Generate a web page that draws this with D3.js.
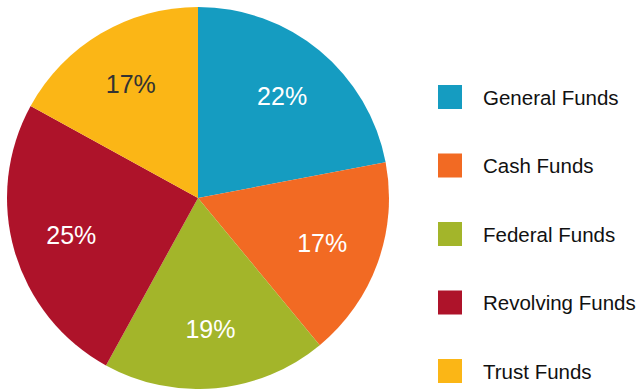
<!DOCTYPE html>
<html>
<head>
<meta charset="utf-8">
<script src="https://cdn.jsdelivr.net/npm/d3@7/dist/d3.min.js"></script>
<style>
  html, body { margin: 0; padding: 0; background: #fff; }
  svg { display: block; }
</style>
</head>
<body>
<svg id="chart" width="643" height="389"></svg>
<script>
// Fund categories and their share of the total (percent)
const categories = ["General Funds", "Cash Funds", "Federal Funds", "Revolving Funds", "Trust Funds"];
const shares = [22, 17, 19, 25, 17];
const colors = ["#159CC1", "#F26A23", "#A3B52A", "#AE132A", "#FBB616"];
const labelColors = ["#ffffff", "#ffffff", "#ffffff", "#ffffff", "#333333"];

const svg = d3.select("#chart");
const cx = 198, cy = 198, radius = 191;

const data = categories.map((c, i) => ({ name: c, value: shares[i], i }));

const pie = d3.pie().value(d => d.value).sort(null);
const arc = d3.arc().innerRadius(0).outerRadius(radius);
const labelArc = d3.arc().innerRadius(132).outerRadius(132);

const g = svg.append("g").attr("transform", `translate(${cx},${cy})`);
const arcs = pie(data);

g.selectAll("path.slice")
  .data(arcs)
  .join("path")
  .attr("class", "slice")
  .attr("d", arc)
  .attr("fill", d => colors[d.data.i]);

g.selectAll("text.pct")
  .data(arcs)
  .join("text")
  .attr("class", "pct")
  .attr("transform", d => `translate(${labelArc.centroid(d)})`)
  .attr("text-anchor", "middle")
  .attr("dominant-baseline", "central")
  .attr("font-family", "Liberation Sans, Arial, sans-serif")
  .attr("font-size", 25)
  .attr("fill", d => labelColors[d.data.i])
  .text(d => d.data.value + "%");

// Legend
const legendY = d3.scalePoint().domain(categories).range([97, 371]);
const legend = svg.append("g");
const items = legend.selectAll("g.item")
  .data(data)
  .join("g")
  .attr("class", "item")
  .attr("transform", d => `translate(438,${legendY(d.name)})`);

items.append("rect")
  .attr("x", 0).attr("y", -12)
  .attr("width", 24).attr("height", 24)
  .attr("fill", d => colors[d.i]);

items.append("text")
  .attr("x", 45)
  .attr("y", 0)
  .attr("dominant-baseline", "central")
  .attr("font-family", "Liberation Sans, Arial, sans-serif")
  .attr("font-size", 20.5)
  .attr("fill", "#111")
  .text(d => d.name);
</script>
</body>
</html>
